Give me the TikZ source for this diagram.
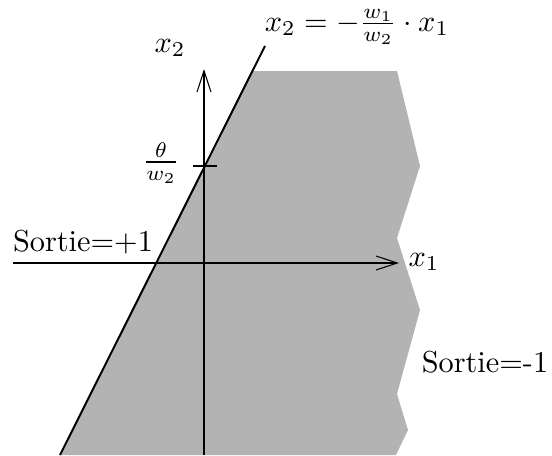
\documentclass[tikz,border=0pt]{standalone}
\usetikzlibrary{arrows.meta}
\definecolor{regiongray}{HTML}{B3B3B3}
\tikzset{
  axis/.style={line width=0.35pt,-{Straight Barb[length=7pt,width=4.6pt,line width=0.35pt]}},
  sepline/.style={line width=0.65pt},
  lbl/.style={inner sep=0pt,anchor=center},
  region/.style={fill=regiongray,draw=none}
}
\begin{document}
\begin{tikzpicture}[x=0.33pt,y=-0.33pt]
\useasboundingbox (0,0) rectangle (552,455);
% half-plane region
\fill[region] (60.5,455) -- (253,71) -- (397,71) -- (420,166) -- (397,238) -- (420,310) -- (397,394) -- (408,430) -- (396,455) -- cycle;
% axes
\coordinate (xs) at (13,263);
\coordinate (xe) at (399,263);
\coordinate (ys) at (204,455);
\coordinate (ye) at (204,69);
\draw[axis] (xs) -- (xe);
\draw[axis] (ys) -- (ye);
% tick
\coordinate (ta) at (193,166);
\coordinate (tb) at (217,166);
\draw[line width=0.35pt] (ta) -- (tb);
% separating line
\coordinate (la) at (60,455);
\coordinate (lb) at (265,46);
\draw[sepline] (la) -- (lb);
% labels
\node[lbl] (eq) at (357,27) {$x_2 = -\frac{w_1}{w_2}\cdot x_1$};
\node[lbl] (x2) at (170,48) {$x_2$};
\node[lbl] (th) at (161,163) {$\frac{\theta}{w_2}$};
\node[lbl] (x1) at (424,262) {$x_1$};
\node[lbl] (sp) at (83,242) {Sortie=+1};
\node[lbl] (sm) at (485,362) {Sortie=-1};
\end{tikzpicture}
\end{document}
